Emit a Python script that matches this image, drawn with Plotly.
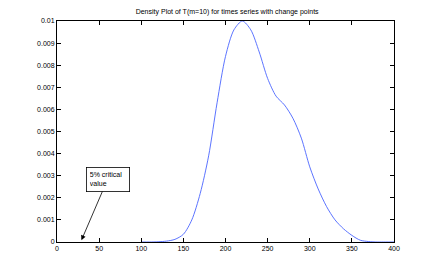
import plotly.graph_objects as go

x_vals = [100, 110, 120, 130, 140, 150, 160, 170, 180, 190, 200, 210, 220, 230, 240,
          250, 260, 270, 280, 290, 300, 310, 320, 330, 340, 350, 360, 370, 380, 390, 400]
density = [0, 0, 0.00001, 0.00004, 0.00012, 0.00035, 0.001, 0.0022, 0.0039, 0.0063,
           0.0084, 0.0096, 0.0100, 0.0096, 0.0086, 0.0074, 0.0066, 0.0062, 0.0056, 0.0047,
           0.0034, 0.0024, 0.0016, 0.0010, 0.0006, 0.0003, 0.00008, 0.00002, 0, 0, 0]
x_ticks = [0, 50, 100, 150, 200, 250, 300, 350, 400]
y_ticks = [0, 0.001, 0.002, 0.003, 0.004, 0.005, 0.006, 0.007, 0.008, 0.009, 0.01]
y_tick_labels = ["0", "0.001", "0.002", "0.003", "0.004", "0.005", "0.006", "0.007", "0.008", "0.009", "0.01"]
title_text = "Density Plot of T(m=10) for times series with change points"
annot_text = "5% critical<br>value"

FONT = "Liberation Sans Narrow, Arial Narrow, Liberation Sans, sans-serif"

fig = go.Figure()
fig.add_trace(go.Scatter(x=x_vals, y=density, mode="lines",
                         line=dict(color="#4a64ff", width=0.9, shape="spline", smoothing=0.8),
                         hoverinfo="skip", showlegend=False))

axis_common = dict(showline=True, linecolor="black", linewidth=1, mirror="allticks",
                   ticks="inside", ticklen=4, tickcolor="black", tickwidth=1,
                   showgrid=False, zeroline=False, automargin=False,
                   tickfont=dict(family=FONT, size=7, color="black"))

fig.update_xaxes(range=[0, 400], tickvals=x_ticks, ticktext=[str(t) for t in x_ticks], **axis_common)
fig.update_yaxes(range=[0, 0.01], tickvals=y_ticks, ticktext=y_tick_labels, **axis_common)

fig.add_annotation(x=29, y=0.00008, ax=60, ay=0.00283, axref="x", ayref="y",
                   xref="x", yref="y", text=annot_text, align="left",
                   showarrow=True, arrowhead=2, arrowsize=1.2, arrowwidth=0.8, arrowcolor="black",
                   bordercolor="black", borderwidth=0.8, bgcolor="white", borderpad=3,
                   font=dict(family=FONT, size=7, color="black"),
                   width=36, height=17)

fig.update_layout(
    width=428, height=265,
    margin=dict(l=49, r=42, t=13, b=31),
    paper_bgcolor="white", plot_bgcolor="white",
    title=dict(text=title_text, x=0.512, xanchor="center", y=0.985, yanchor="middle",
               font=dict(family=FONT, size=7, color="black")),
)

fig.write_html("out.html")
